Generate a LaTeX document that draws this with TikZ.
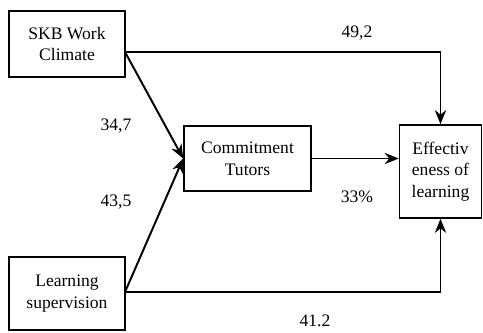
\documentclass[tikz,border=0pt]{standalone}
\usepackage{fontspec}
\setmainfont{Liberation Serif}
\usetikzlibrary{arrows.meta}
\begin{document}
\begin{tikzpicture}[x=0.025cm,y=-0.025cm,
    font=\fontsize{12.5}{15.5}\selectfont,
    box/.style={draw, line width=1.1pt, align=center, inner sep=0pt},
    arr/.style={line width=1.4pt, -{Stealth[length=10pt,width=8pt]}}]
            \useasboundingbox (0,0) rectangle (483,332);
            \coordinate (S) at (67,44);
            \coordinate (L) at (67,293.5);
            \coordinate (T) at (247.5,158.5);
            \coordinate (E) at (440.5,171.5);
            \node[box, minimum width=2.9cm, minimum height=1.65cm] (skb) at (S) {SKB Work\\Climate};
            \node[box, minimum width=2.9cm, minimum height=1.825cm] (sup) at (L) {Learning\\supervision};
            \node[box, minimum width=3.175cm, minimum height=1.625cm] (tutor) at (T) {Commitment\\Tutors};
            \node[box, minimum width=2.05cm, minimum height=2.325cm] (effect) at (E) {Effectiv\\eness of\\learning};
            \coordinate (skbout) at (125,52);
            \coordinate (supout) at (125,292);
            \draw[arr] (skbout) -| (effect.north);
            \draw[arr] (supout) -| (effect.south);
            \draw[arr] (skbout) -- (tutor.west);
            \draw[arr] (supout) -- (tutor.west);
            \draw[arr] (tutor.east) -- (tutor.east -| effect.west);
            \node (w1) at (357,33) {49,2};
            \node (w2) at (116,126) {34,7};
            \node (w3) at (116,202) {43,5};
            \node (w4) at (357,197) {33\%};
            \node (w5) at (315,321) {41.2};
        \end{tikzpicture}
\end{document}
